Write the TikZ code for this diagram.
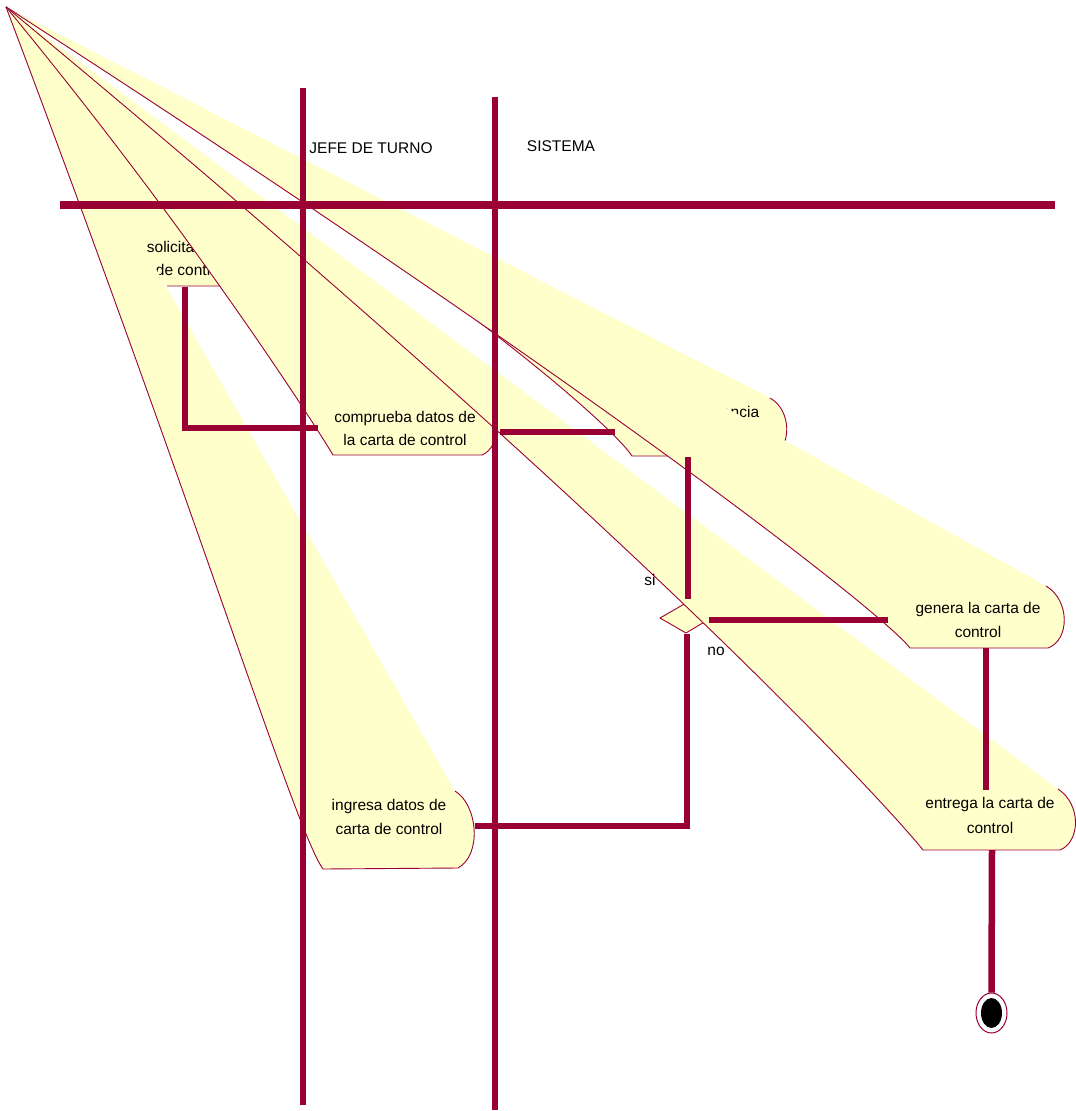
\documentclass[tikz,border=0pt]{standalone}
\usepackage{fontspec}
\setmainfont{Liberation Sans}
\usetikzlibrary{shapes.geometric}
\definecolor{actline}{HTML}{990033}
\definecolor{actfill}{HTML}{FFFFCC}
\begin{document}
\begin{tikzpicture}[x=1pt,y=-1pt,
  area/.style={fill=actfill},
  rim/.style={draw=actline,line width=0.9pt,line join=round},
  flow/.style={draw=actline,line width=6.5pt,line join=miter},
  lane/.style={draw=actline},
  txt/.style={anchor=base,inner sep=0pt,font=\fontsize{15.5}{18}\selectfont}]
\useasboundingbox (0,0) rectangle (1076,1111);
\fill[white] (0,0) rectangle (1076,1111);
\coordinate (apex) at (6,7);

% solicita carta de control
\fill[area] (apex) -- (236,231) .. controls (258,240) and (258,280) .. (238,286) -- (167,286) .. controls (140,250) and (30,60) .. (apex) -- cycle;
\draw[rim] (236,231) .. controls (258,240) and (258,280) .. (238,286) -- (167,286);
\node[txt] (sol1) at (190,252) {solicita carta};
\node[txt] (sol2) at (190,275.5) {de control};

% comprueba datos
\fill[area] (apex) -- (482,396) .. controls (502,405) and (502,447) .. (482,455) -- (333,455) .. controls (312,420) and (190,230) .. (apex) -- cycle;
\draw[rim] (482,396) .. controls (502,405) and (502,447) .. (482,455) -- (333,455) .. controls (312,420) and (190,230) .. (apex);
\node[txt] (comp1) at (405,422.5) {comprueba datos de};
\node[txt] (comp2) at (405,445.5) {la carta de control};

% verifica existencia
\fill[area] (apex) -- (770,398) .. controls (792,410) and (792,448) .. (772,456) -- (632,456) .. controls (612,425) and (430,262) .. (apex) -- cycle;
\draw[rim] (770,398) .. controls (792,410) and (792,448) .. (772,456) -- (632,456) .. controls (612,425) and (430,262) .. (apex);
\node[txt] (ver1) at (698,417.5) {verifica existencia};

% genera la carta
\fill[area] (apex) -- (1046,586) .. controls (1070,600) and (1070,640) .. (1048,648) -- (910,648) .. controls (885,615) and (600,390) .. (apex) -- cycle;
\draw[rim] (1046,586) .. controls (1070,600) and (1070,640) .. (1048,648) -- (910,648) .. controls (885,615) and (600,390) .. (apex);
\node[txt] (gen1) at (978,613.5) {genera la carta de};
\node[txt] (gen2) at (978,637.5) {control};

% ingresa datos
\fill[area] (apex) -- (455,791) .. controls (478,805) and (482,855) .. (458,868) -- (323,869) .. controls (295,830) and (200,520) .. (apex) -- cycle;
\draw[rim] (455,791) .. controls (478,805) and (482,855) .. (458,868) -- (323,869) .. controls (295,830) and (200,520) .. (apex);
\node[txt] (ing1) at (389,810.5) {ingresa datos de};
\node[txt] (ing2) at (389,834.5) {carta de control};

% decision
\coordinate (dTop) at (686,603);
\coordinate (dRight) at (711,618);
\coordinate (dBot) at (686,633);
\coordinate (dLeft) at (660,618);
\filldraw[area,rim] (dTop) -- (dRight) -- (dBot) -- (dLeft) -- cycle;

% entrega la carta
\fill[area] (apex) -- (1058,789) .. controls (1082,805) and (1080,842) .. (1060,850) -- (923,850) .. controls (893,812) and (640,532) .. (apex) -- cycle;
\draw[rim] (1058,789) .. controls (1082,805) and (1080,842) .. (1060,850) -- (923,850) .. controls (893,812) and (640,532) .. (apex);
\node[txt] (ent1) at (990,808.5) {entrega la carta de};
\node[txt] (ent2) at (990,833.5) {control};

% swimlanes
\draw[lane,line width=5.5pt] (303,88) -- (303,1105);
\draw[lane,line width=6pt] (495,97) -- (495,1110);
\draw[lane,line width=8pt] (60,205) -- (1055,205);
\node[txt] (laneJ) at (371,153.5) {JEFE DE TURNO};
\node[txt] (laneS) at (561,151.5) {SISTEMA};

% final state
\node[ellipse,draw=actline,line width=1pt,fill=white,minimum width=31pt,minimum height=40pt,inner sep=0pt] (fin) at (991.5,1013) {};
\node[ellipse,fill=black,minimum width=21pt,minimum height=30pt,inner sep=0pt] (finDot) at (fin.center) {};

% transitions
\coordinate (solOut) at (185,287);
\coordinate (compIn) at (318,428);
\coordinate (compOut) at (500,432);
\coordinate (verIn) at (615,432);
\coordinate (verOut) at (688,457);
\coordinate (decIn) at (688,599);
\coordinate (decYes) at (709,620);
\coordinate (genIn) at (888,620);
\coordinate (genOut) at (986,648);
\coordinate (entIn) at (986,790);
\coordinate (decNo) at (687,634);
\coordinate (ingIn) at (475,826);
\coordinate (entOut) at (992,850);
\draw[flow] (solOut) |- (compIn);
\draw[flow] (compOut) -- (verIn);
\draw[flow] (verOut) -- (decIn);
\draw[flow] (decYes) -- (genIn);
\draw[flow] (genOut) -- (entIn);
\draw[flow] (decNo) |- (ingIn);
\draw[flow] (entOut) -- (fin.north);

\node[txt] (gsi) at (650,585) {si};
\node[txt] (gno) at (716,655) {no};
\end{tikzpicture}
\end{document}
